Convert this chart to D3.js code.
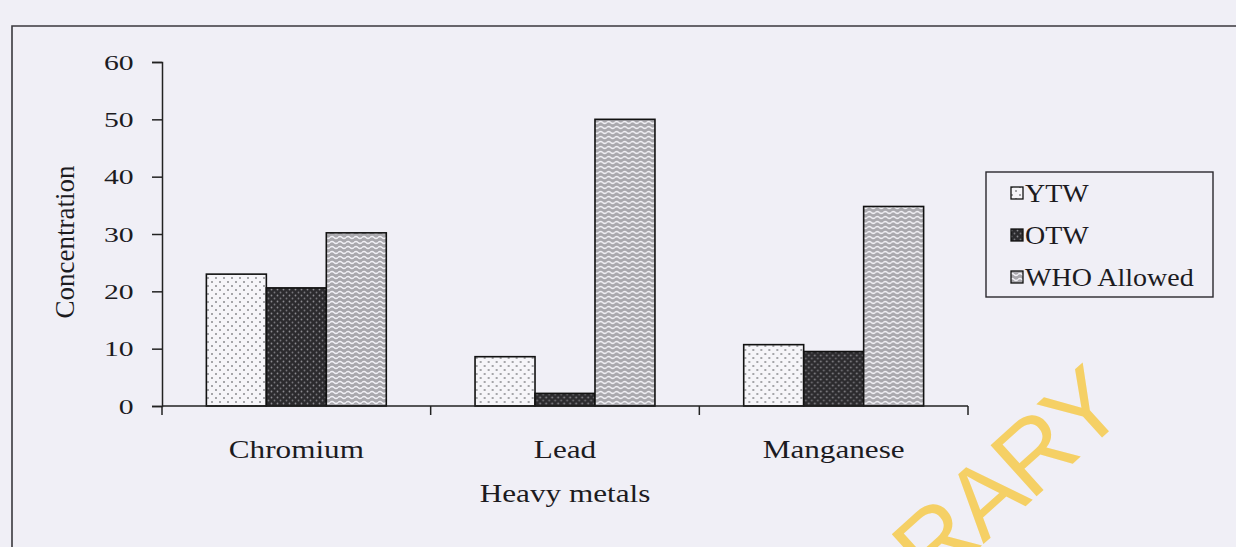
<!DOCTYPE html>
<html>
<head>
<meta charset="utf-8">
<script src="https://cdn.jsdelivr.net/npm/d3@7"></script>
<style>
  body { margin: 0; background: #f0eff6; }
  svg { display: block; font-family: "Liberation Serif", "Times New Roman", serif; }
</style>
</head>
<body>
<svg id="chart" width="1236" height="547"></svg>
<script>
// ── Data ─────────────────────────────────────────────────────────────
const metals = ['Chromium', 'Lead', 'Manganese'];
const series = ['YTW', 'OTW', 'WHO Allowed'];
const ytwValues = [23.0, 8.6, 10.7];
const otwValues = [20.6, 2.2, 9.5];
const whoValues = [30.2, 50.0, 34.8];
const yTicks = [0, 10, 20, 30, 40, 50, 60];

const valuesBySeries = { 'YTW': ytwValues, 'OTW': otwValues, 'WHO Allowed': whoValues };
const PATTERN = { 'YTW': 'url(#pat-ytw)', 'OTW': 'url(#pat-otw)', 'WHO Allowed': 'url(#pat-who)' };
const STRETCH = 1.2;   // the scan is a bit wider than tall

const svg = d3.select('#chart');

// ── Patterns ─────────────────────────────────────────────────────────
const defs = svg.append('defs');

const pYtw = defs.append('pattern').attr('id', 'pat-ytw')
  .attr('patternUnits', 'userSpaceOnUse').attr('width', 8).attr('height', 8);
pYtw.append('rect').attr('width', 8).attr('height', 8).attr('fill', '#f6f5f9');
pYtw.append('circle').attr('cx', 2).attr('cy', 2).attr('r', 1).attr('fill', '#8a8a8e');
pYtw.append('circle').attr('cx', 6).attr('cy', 6).attr('r', 1).attr('fill', '#8a8a8e');

const pOtw = defs.append('pattern').attr('id', 'pat-otw')
  .attr('patternUnits', 'userSpaceOnUse').attr('width', 6).attr('height', 6);
pOtw.append('rect').attr('width', 6).attr('height', 6).attr('fill', '#2c2b2e');
pOtw.append('circle').attr('cx', 1.5).attr('cy', 1.5).attr('r', 0.9).attr('fill', '#8c8b90');
pOtw.append('circle').attr('cx', 4.5).attr('cy', 4.5).attr('r', 0.9).attr('fill', '#77767b');

const pWho = defs.append('pattern').attr('id', 'pat-who')
  .attr('patternUnits', 'userSpaceOnUse').attr('width', 8).attr('height', 5);
pWho.append('rect').attr('width', 8).attr('height', 5).attr('fill', '#a9a8ad');
pWho.append('path')
  .attr('d', 'M0,2.5 Q2,0.5 4,2.5 T8,2.5')
  .attr('fill', 'none').attr('stroke', '#f2f1f6').attr('stroke-width', 1.3);

// ── Page frame ───────────────────────────────────────────────────────
svg.append('path')
  .attr('d', 'M12,547 L12,26 L1236,26')
  .attr('fill', 'none').attr('stroke', '#3a393e').attr('stroke-width', 1.6);

// ── Scales ───────────────────────────────────────────────────────────
const x = d3.scaleBand().domain(metals).range([162, 968]).padding(0);
const xInner = d3.scaleBand().domain(series).range([0, x.bandwidth()])
  .paddingInner(0).paddingOuter(0.74);
const y = d3.scaleLinear().domain([0, 60]).range([406, 62]);

// ── Bars ─────────────────────────────────────────────────────────────
const groups = svg.append('g').selectAll('g')
  .data(metals)
  .join('g')
    .attr('transform', d => `translate(${x(d)},0)`);

groups.selectAll('rect')
  .data((m, i) => series.map(s => ({ s, v: valuesBySeries[s][i] })))
  .join('rect')
    .attr('x', d => xInner(d.s))
    .attr('y', d => y(d.v))
    .attr('width', xInner.bandwidth())
    .attr('height', d => y(0) - y(d.v))
    .attr('fill', d => PATTERN[d.s])
    .attr('stroke', '#111')
    .attr('stroke-width', 1.6);

// ── Axes ─────────────────────────────────────────────────────────────
const yAxis = svg.append('g')
  .attr('transform', 'translate(162,0)')
  .call(d3.axisLeft(y).tickValues(yTicks).tickSize(10));
yAxis.select('.domain').attr('stroke', '#222').attr('stroke-width', 1.5);
yAxis.selectAll('.tick line').attr('stroke', '#222').attr('stroke-width', 1.5);
yAxis.selectAll('.tick text')
  .attr('x', -21)
  .attr('transform', 'scale(1.35,1)')
  .attr('font-family', '"Liberation Serif", serif')
  .attr('font-size', 22)
  .attr('fill', '#1c1b1f');

const xAxis = svg.append('g')
  .attr('transform', `translate(0,${y(0)})`)
  .call(d3.axisBottom(x).tickSize(0).tickFormat(''));
xAxis.select('.domain').attr('stroke', '#222').attr('stroke-width', 1.5)
  .attr('d', `M${x.range()[0]},0H${x.range()[1]}`);

// ticks at band boundaries
const boundaries = metals.map(m => x(m)).concat([x.range()[1]]);
svg.append('g').selectAll('line')
  .data(boundaries)
  .join('line')
    .attr('x1', d => d).attr('x2', d => d)
    .attr('y1', y(0)).attr('y2', y(0) + 9)
    .attr('stroke', '#222').attr('stroke-width', 1.5);

// category labels
svg.append('g').selectAll('text')
  .data(metals)
  .join('text')
    .attr('transform', d => `translate(${x(d) + x.bandwidth() / 2},458) scale(${STRETCH},1)`)
    .attr('text-anchor', 'middle')
    .attr('font-size', 26)
    .attr('fill', '#1c1b1f')
    .text(d => d);

// axis titles
svg.append('text')
  .attr('transform', `translate(565,502) scale(${STRETCH},1)`)
  .attr('text-anchor', 'middle')
  .attr('font-size', 26)
  .attr('fill', '#1c1b1f')
  .text('Heavy metals');

svg.append('text')
  .attr('transform', 'translate(74,242) rotate(-90)')
  .attr('text-anchor', 'middle')
  .attr('font-size', 27)
  .attr('fill', '#1c1b1f')
  .text('Concentration');

// ── Legend ───────────────────────────────────────────────────────────
const legend = svg.append('g').attr('transform', 'translate(986,172)');
legend.append('rect')
  .attr('width', 227).attr('height', 125)
  .attr('fill', 'none').attr('stroke', '#2a292e').attr('stroke-width', 1.4);

const items = legend.selectAll('g.item')
  .data(series)
  .join('g')
    .attr('class', 'item')
    .attr('transform', (d, i) => `translate(0,${21 + i * 42})`);

items.append('rect')
  .attr('x', 25).attr('y', -6)
  .attr('width', 12).attr('height', 12)
  .attr('fill', d => PATTERN[d])
  .attr('stroke', '#111').attr('stroke-width', 1.3);

items.append('text')
  .attr('transform', `translate(39,9) scale(1.12,1)`)
  .attr('font-size', 25)
  .attr('fill', '#1c1b1f')
  .text(d => d);

// ── Watermark ────────────────────────────────────────────────────────
svg.append('text')
  .attr('transform', 'translate(1128,414) rotate(-42)')
  .attr('text-anchor', 'end')
  .attr('font-family', '"Liberation Sans", Arial, sans-serif')
  .attr('font-size', 100)
  .attr('letter-spacing', -3)
  .attr('fill', '#f6cd56')
  .attr('opacity', 0.9)
  .text('RARY');
</script>
</body>
</html>
